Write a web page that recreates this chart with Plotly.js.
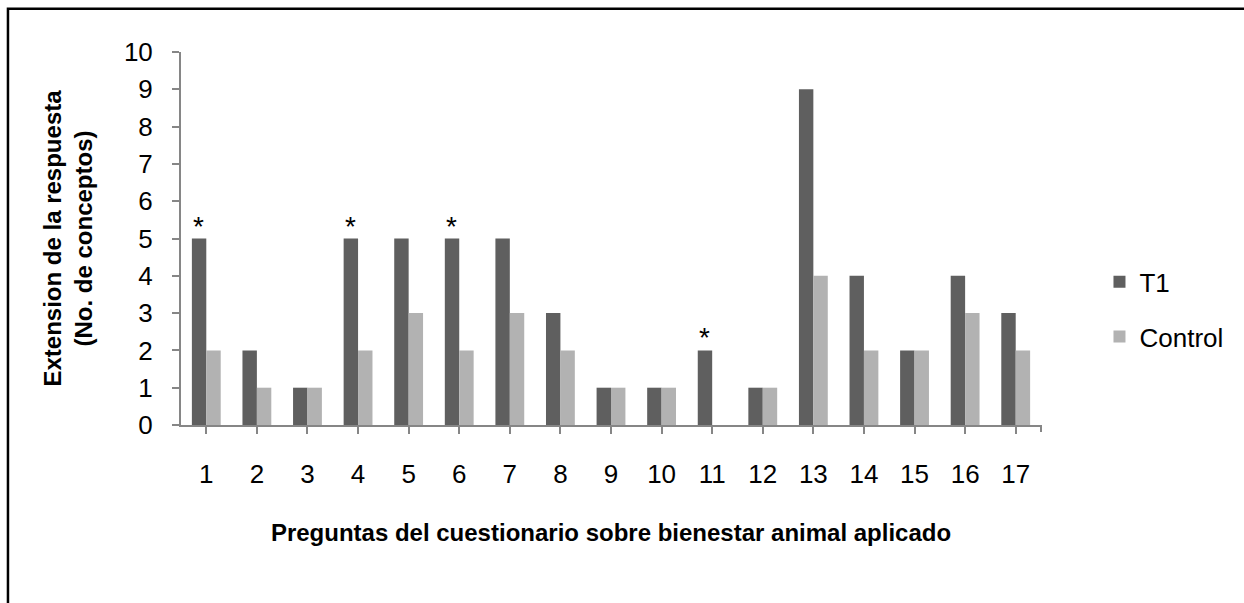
<!DOCTYPE html>
<html>
<head>
<meta charset="utf-8">
<script src="https://cdn.plot.ly/plotly-3.0.1.min.js"></script>
<style>
  html, body { margin: 0; padding: 0; background: #ffffff; }
  #chart { width: 1244px; height: 603px; }
</style>
</head>
<body>
<div id="chart"></div>
<script>
// ---- data ----
const categories = ["1","2","3","4","5","6","7","8","9","10","11","12","13","14","15","16","17"];
const t1Values      = [5, 2, 1, 5, 5, 5, 5, 3, 1, 1, 2, 1, 9, 4, 2, 4, 3];
const controlValues = [2, 1, 1, 2, 3, 2, 3, 2, 1, 1, 0, 1, 4, 2, 2, 3, 2];
const starredQuestions = ["1", "4", "6", "11"];
const seriesNames = ["T1", "Control"];
const yTickValues = [0,1,2,3,4,5,6,7,8,9,10];
const xTitleText = "Preguntas del cuestionario sobre bienestar animal aplicado";
const yTitleText = "Extension de la respuesta<br>(No. de conceptos)";

const FONT = '"Liberation Sans", Arial, sans-serif';
const AXIS_COLOR = '#868686';

const traces = [
  {
    type: 'bar', name: seriesNames[0], x: categories, y: t1Values,
    marker: { color: '#5f5f5f' }, legendgroup: 'a'
  },
  {
    type: 'bar', name: seriesNames[1], x: categories, y: controlValues,
    marker: { color: '#b2b2b2' }, legendgroup: 'b'
  }
];

// category axes take the category's index as annotation position
const annotations = starredQuestions.map(q => {
  const idx = categories.indexOf(q);
  return {
    x: idx, y: t1Values[idx], xref: 'x', yref: 'y',
    text: '*', showarrow: false, xshift: -7.5, yshift: -5,
    yanchor: 'bottom', xanchor: 'center',
    font: { family: FONT, size: 28, color: '#000000' }
  };
});

const layout = {
  width: 1244, height: 603,
  margin: { l: 181, r: 203, t: 52, b: 178, pad: 0 },
  paper_bgcolor: '#ffffff', plot_bgcolor: '#ffffff',
  font: { family: FONT, color: '#000000', size: 26 },
  barmode: 'group', bargap: 0.43, bargroupgap: 0,
  showlegend: true,
  legend: {
    x: 1.068, xanchor: 'left', y: 0.31, yanchor: 'middle',
    traceorder: 'grouped', tracegroupgap: 18,
    font: { family: FONT, size: 26, color: '#000000' },
    bgcolor: 'rgba(0,0,0,0)'
  },
  xaxis: {
    type: 'category', range: [-0.5, 16.5], fixedrange: true,
    showline: true, linecolor: AXIS_COLOR, linewidth: 2,
    ticks: 'outside', ticklen: 7, tickwidth: 2, tickcolor: AXIS_COLOR,
    ticklabelstandoff: 18,
    showgrid: false, zeroline: false, automargin: false,
    tickfont: { family: FONT, size: 26, color: '#000000' },
    title: { text: xTitleText, standoff: 36, font: { family: FONT, size: 24, color: '#000000', weight: 'bold' } }
  },
  yaxis: {
    range: [0, 10], tickvals: yTickValues, fixedrange: true,
    showline: true, linecolor: AXIS_COLOR, linewidth: 2,
    ticks: 'outside', ticklen: 7, tickwidth: 2, tickcolor: AXIS_COLOR,
    ticklabelstandoff: 14,
    showgrid: false, zeroline: false, automargin: false,
    tickfont: { family: FONT, size: 26, color: '#000000' },
    title: { text: yTitleText, standoff: 24, font: { family: FONT, size: 24, color: '#000000', weight: 'bold' } }
  },
  annotations: annotations,
  shapes: [
    { type: 'rect', xref: 'paper', yref: 'paper', x0: -0.2012, x1: 1.5, y0: -0.7, y1: 1.116,
      line: { color: '#000000', width: 2.5 }, fillcolor: 'rgba(0,0,0,0)', layer: 'below' },
    { type: 'line', xref: 'paper', yref: 'paper', x0: 1, x1: 1, y0: 0, y1: -0.019,
      line: { color: AXIS_COLOR, width: 2 } }
  ]
};

Plotly.newPlot('chart', traces, layout, { displayModeBar: false, staticPlot: true });
</script>
</body>
</html>
